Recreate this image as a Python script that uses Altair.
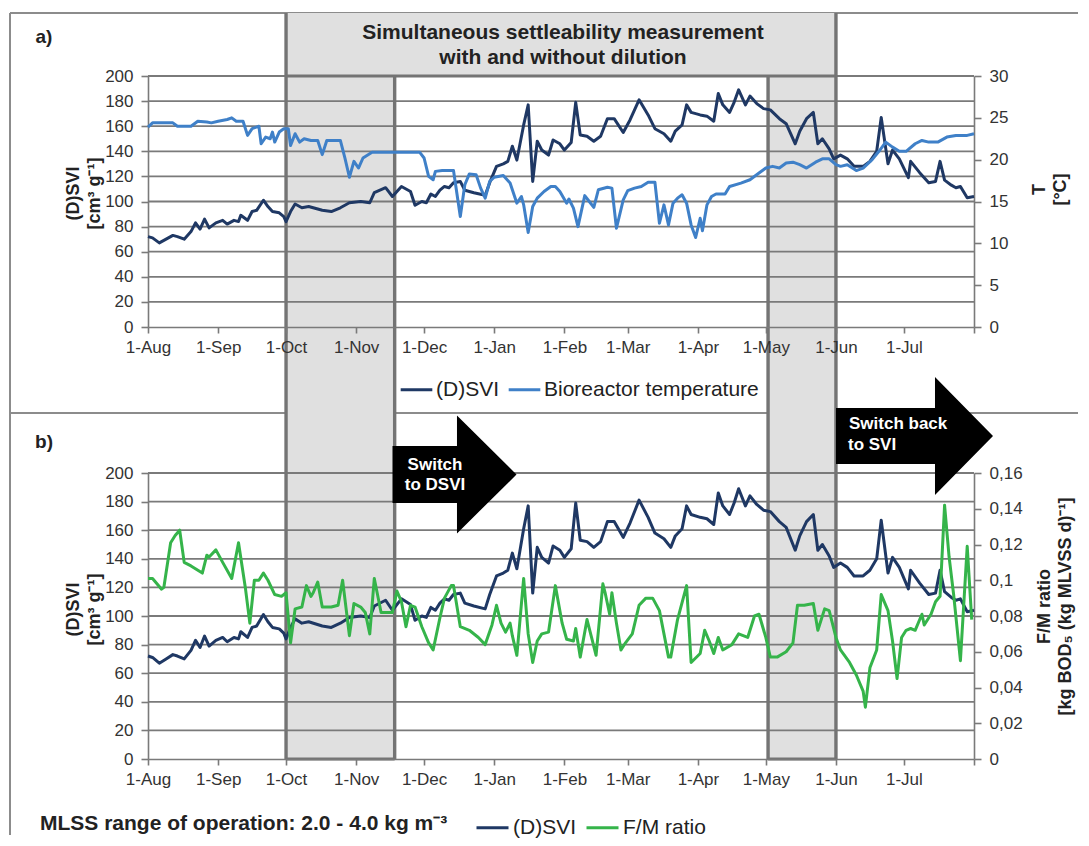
import altair as alt
import pandas as pd

# ---------------- data ----------------
START = "2013-08-01"

dsvi_day = [0, 2, 5, 8, 11, 13, 16, 19, 21, 23,
            25, 27, 30, 33, 35, 38, 40, 41, 44, 46,
            48, 51, 53, 55, 58, 60, 61, 63, 65, 68,
            71, 77, 81, 85, 89, 94, 98, 100, 105, 108,
            112, 116, 118, 121, 123, 125, 127, 129, 131, 133,
            135, 138, 140, 144, 149, 151, 154, 157, 159, 161,
            163, 166, 168, 170, 172, 174, 177, 179, 182, 184,
            187, 189, 191, 194, 197, 200, 203, 206, 210, 213,
            217, 221, 224, 228, 231, 233, 236, 238, 240, 244,
            247, 250, 252, 254, 257, 259, 261, 264, 266, 269,
            272, 275, 279, 282, 286, 288, 291, 294, 296, 298,
            301, 303, 306, 309, 312, 316, 319, 322, 324, 327,
            329, 332, 336, 337, 341, 345, 348, 350, 352, 355,
            357, 359, 362, 365]
dsvi_val = [72, 71, 67, 70, 73, 72, 70, 76, 83, 78,
            86, 79, 83, 85, 82, 85, 84, 89, 85, 92,
            93, 101, 96, 92, 91, 88, 84, 92, 98, 95,
            96, 93, 92, 95, 99, 100, 99, 107, 111, 104,
            112, 108, 97, 100, 99, 106, 104, 109, 112, 111,
            115, 116, 109, 107, 105, 115, 128, 130, 132, 144,
            133, 161, 177, 116, 148, 141, 137, 149, 146, 141,
            147, 179, 153, 152, 148, 152, 166, 166, 155, 165,
            181, 169, 158, 154, 148, 156, 161, 177, 171, 169,
            168, 164, 186, 177, 171, 179, 189, 177, 184, 178,
            174, 173, 166, 162, 146, 156, 166, 171, 146, 150,
            142, 134, 137, 134, 128, 128, 132, 140, 167, 130,
            141, 134, 119, 132, 123, 115, 116, 132, 117, 113,
            111, 112, 103, 104]

temp_day = [0, 2, 6, 11, 13, 19, 22, 26, 28, 31,
            35, 37, 39, 42, 44, 46, 49, 50, 52, 54,
            55, 56, 58, 60, 62, 63, 65, 67, 69, 72,
            75, 77, 79, 85, 87, 89, 91, 93, 95, 99,
            109, 120, 122, 124, 126, 127, 130, 135, 138, 140,
            142, 145, 147, 149, 151, 153, 157, 160, 163, 165,
            166, 168, 170, 172, 175, 178, 180, 182, 185, 186,
            188, 190, 193, 195, 197, 199, 203, 205, 207, 210,
            212, 215, 218, 221, 224, 226, 228, 230, 232, 234,
            236, 238, 240, 242, 244, 245, 247, 249, 251, 255,
            257, 262, 266, 270, 273, 276, 279, 282, 285, 288,
            291, 295, 298, 301, 304, 306, 309, 313, 316, 320,
            323, 326, 329, 332, 335, 339, 342, 345, 349, 353,
            357, 362, 365]
temp_val = [23.9, 24.4, 24.4, 24.4, 24.0, 24.0, 24.6, 24.5, 24.4, 24.6,
            24.8, 25.0, 24.6, 24.6, 22.9, 23.7, 24.0, 21.9, 22.7, 22.5,
            23.3, 22.1, 23.3, 23.7, 23.7, 21.7, 23.1, 22.1, 22.5, 22.3,
            22.3, 20.6, 22.3, 22.3, 20.2, 17.9, 19.8, 19.0, 20.2, 20.9,
            20.9, 20.9, 20.2, 18.0, 17.6, 18.6, 18.7, 18.7, 13.2, 17.0,
            18.3, 18.2, 16.6, 15.4, 17.4, 17.9, 18.1, 17.2, 14.8, 15.6,
            14.6, 11.3, 14.4, 15.4, 16.2, 16.8, 16.8, 16.2, 14.8, 15.3,
            14.2, 12.0, 15.7, 15.0, 14.3, 16.4, 16.7, 16.6, 11.8, 15.2,
            16.3, 16.6, 16.8, 17.3, 17.3, 12.4, 14.6, 12.2, 14.8, 15.4,
            15.8, 14.8, 12.2, 10.7, 13.0, 11.5, 14.6, 15.6, 15.9, 15.9,
            16.8, 17.2, 17.6, 18.4, 19.0, 19.2, 19.0, 19.6, 19.7, 19.4,
            19.0, 19.7, 20.1, 20.1, 19.4, 19.2, 19.4, 18.7, 19.0, 20.0,
            21.0, 22.1, 21.5, 21.0, 21.0, 21.9, 22.3, 22.1, 22.1, 22.7,
            22.9, 22.9, 23.1]

fm_day = [0, 2, 6, 7, 10, 12, 14, 16, 19, 24,
          26, 27, 30, 33, 37, 40, 43, 45, 47, 49,
          51, 53, 56, 59, 61, 63, 65, 68, 70, 72,
          73, 75, 77, 81, 84, 86, 89, 91, 94, 96,
          98, 100, 103, 108, 110, 112, 114, 116, 118, 121,
          124, 126, 129, 131, 134, 135, 138, 142, 146, 149,
          152, 154, 156, 158, 160, 161, 163, 166, 168, 170,
          172, 174, 177, 180, 183, 185, 188, 189, 191, 194,
          196, 198, 201, 202, 204, 205, 207, 209, 211, 214,
          217, 220, 223, 226, 230, 231, 234, 238, 240, 244,
          246, 248, 250, 252, 254, 258, 261, 263, 265, 268,
          270, 273, 275, 278, 282, 285, 287, 290, 294, 296,
          299, 301, 304, 306, 310, 313, 316, 317, 319, 322,
          324, 327, 329, 331, 333, 335, 337, 339, 342, 343,
          346, 348, 350, 352, 354, 356, 359, 362, 364]
fm_val = [0.101, 0.101, 0.095, 0.096, 0.121, 0.125, 0.128, 0.110, 0.108, 0.104,
          0.114, 0.113, 0.117, 0.110, 0.101, 0.121, 0.096, 0.076, 0.100, 0.100,
          0.104, 0.100, 0.092, 0.091, 0.093, 0.065, 0.084, 0.085, 0.097, 0.091,
          0.093, 0.099, 0.085, 0.085, 0.086, 0.100, 0.069, 0.087, 0.085, 0.082,
          0.070, 0.101, 0.082, 0.082, 0.094, 0.088, 0.074, 0.086, 0.085, 0.074,
          0.065, 0.061, 0.079, 0.090, 0.097, 0.097, 0.074, 0.072, 0.068, 0.064,
          0.075, 0.086, 0.076, 0.071, 0.076, 0.069, 0.058, 0.101, 0.070, 0.054,
          0.066, 0.070, 0.071, 0.097, 0.076, 0.067, 0.066, 0.073, 0.057, 0.078,
          0.068, 0.058, 0.098, 0.093, 0.081, 0.093, 0.076, 0.061, 0.065, 0.070,
          0.086, 0.090, 0.090, 0.083, 0.057, 0.057, 0.078, 0.097, 0.054, 0.059,
          0.072, 0.066, 0.059, 0.068, 0.061, 0.064, 0.070, 0.069, 0.068, 0.080,
          0.081, 0.068, 0.057, 0.057, 0.060, 0.065, 0.086, 0.086, 0.087, 0.072,
          0.084, 0.083, 0.068, 0.061, 0.054, 0.047, 0.038, 0.029, 0.051, 0.061,
          0.092, 0.083, 0.066, 0.045, 0.068, 0.072, 0.073, 0.072, 0.081, 0.075,
          0.081, 0.088, 0.091, 0.142, 0.113, 0.092, 0.055, 0.119, 0.078]

svi_ticks = [0, 20, 40, 60, 80, 100, 120, 140, 160, 180, 200]
temp_ticks = [0, 5, 10, 15, 20, 25, 30]
fm_ticks = [0, 0.02, 0.04, 0.06, 0.08, 0.1, 0.12, 0.14, 0.16]
month_ticks = [(2013, 8), (2013, 9), (2013, 10), (2013, 11), (2013, 12),
               (2014, 1), (2014, 2), (2014, 3), (2014, 4), (2014, 5),
               (2014, 6), (2014, 7), (2014, 8)]

band_start = ["2013-10-01", "2014-05-02"]
band_end = ["2013-11-18", "2014-06-01"]
header_start = ["2013-10-01"]
header_end = ["2014-06-01"]
outer_edges = ["2013-10-01", "2014-06-01"]
inner_edges = ["2013-11-18", "2014-05-02"]

series_top = ["(D)SVI", "Bioreactor temperature"]
series_bot = ["(D)SVI", "F/M ratio"]

# ---------------- styling ----------------
NAVY = "#1f3864"
BLUE = "#3f80c8"
GREEN = "#35b44a"
GRID = "#7a7a7a"
BAND = "#e0e0e0"
BORDER = "#747474"
FRAME = "#8c8c8c"
FONT = "Liberation Sans"

W, H1, H2, GAP = 826, 251, 286, 146


def to_dates(days):
    base = pd.Timestamp(START)
    return [(base + pd.Timedelta(days=int(d))).strftime("%Y-%m-%d") for d in days]


dsvi_df = pd.DataFrame({"date": to_dates(dsvi_day), "dsvi": dsvi_val, "series": series_top[0]})
temp_df = pd.DataFrame({"date": to_dates(temp_day), "temp": temp_val, "series": series_top[1]})
fm_df = pd.DataFrame({"date": to_dates(fm_day), "fm": fm_val, "series": series_bot[1]})
bands_df = pd.DataFrame({"start": band_start, "end": band_end})
header_df = pd.DataFrame({"start": header_start, "end": header_end})
outer_df = pd.DataFrame({"date": outer_edges})
inner_df = pd.DataFrame({"date": inner_edges})
grid_df = pd.DataFrame({"dsvi": svi_ticks[1:]})
dummy = pd.DataFrame({"k": [0]})

xscale = alt.Scale(type="utc", nice=False,
                   domain=[alt.DateTime(year=2013, month=8, date=1, utc=True),
                           alt.DateTime(year=2014, month=8, date=1, utc=True)])
xaxis = alt.Axis(values=[alt.DateTime(year=y, month=m, date=1, utc=True) for y, m in month_ticks],
                 labelExpr="datum.value >= 1406851200000 ? '' : utcFormat(datum.value, '%-d-%b')",
                 title=None, grid=False, labelFlush=False, labelOverlap=False,
                 tickSize=6, labelPadding=6, labelFontSize=17, zindex=1)


def X(field):
    return alt.X(f"{field}:T", scale=xscale, axis=xaxis)


svi_scale = alt.Scale(domain=[0, 200], nice=False)


def svi_axis(title_y):
    return alt.Axis(values=svi_ticks, title=["(D)SVI", "[cm³ g⁻¹]"], grid=False,
                    tickSize=7, labelPadding=8, labelFontSize=17,
                    titleFontSize=18, titleFontWeight="bold",
                    titleLineHeight=21, titleAngle=270, titleBaseline="bottom",
                    titleX=-66, titleY=title_y)


temp_axis = alt.Axis(values=temp_ticks, orient="right", title=["T", "[°C]"], grid=False,
                     tickSize=7, labelPadding=8, labelFontSize=17,
                     titleFontSize=18, titleFontWeight="bold",
                     titleLineHeight=21, titleAngle=270, titleBaseline="top",
                     titleX=56, titleY=113)
fm_axis = alt.Axis(values=fm_ticks, orient="right",
                   labelExpr="replace(toString(datum.value), '.', ',')",
                   title=["F/M ratio", "[kg BOD₅ (kg MLVSS d)⁻¹]"], grid=False,
                   tickSize=7, labelPadding=8, labelFontSize=17,
                   titleFontSize=18, titleFontWeight="bold",
                   titleLineHeight=21, titleAngle=270, titleBaseline="top",
                   titleX=61, titleY=133)
axis_top = svi_axis(117)
axis_bot = svi_axis(136)

color_top = alt.Color("series:N",
                      scale=alt.Scale(domain=series_top, range=[NAVY, BLUE]),
                      legend=alt.Legend(orient="none", legendX=251, legendY=296,
                                        direction="horizontal", title=None,
                                        symbolType="stroke", symbolSize=1000,
                                        symbolStrokeWidth=3, labelFontSize=21,
                                        labelOffset=2, columnPadding=3, padding=0,
                                        labelLimit=500, labelColor="#222"))
color_bot = alt.Color("series:N",
                      scale=alt.Scale(domain=series_bot, range=[NAVY, GREEN]),
                      legend=alt.Legend(orient="none", legendX=-108, legendY=337,
                                        direction="horizontal",
                                        title="MLSS range of operation: 2.0 - 4.0 kg m⁻³",
                                        titleOrient="left", titleFontSize=21,
                                        titleFontWeight="bold", titleColor="#222",
                                        titlePadding=27, titleLimit=1000,
                                        titleAnchor="middle", titleBaseline="middle",
                                        symbolType="stroke", symbolSize=1024,
                                        symbolStrokeWidth=3, labelFontSize=21,
                                        labelOffset=3, columnPadding=4, padding=0,
                                        labelLimit=500, labelColor="#222"))


def hline(x1, x2, y, color=FRAME, w=2):
    return alt.Chart(dummy).mark_rule(color=color, strokeWidth=w).encode(
        x=alt.value(x1), x2=alt.value(x2), y=alt.value(y))


def vline(x, y1, y2, color=FRAME, w=2):
    return alt.Chart(dummy).mark_rule(color=color, strokeWidth=w).encode(
        x=alt.value(x), y=alt.value(y1), y2=alt.value(y2))


def label(text, x, y, size, color="#222", weight="bold", align="center"):
    return alt.Chart(dummy).mark_text(text=text, fontSize=size, fontWeight=weight,
                                      color=color, align=align, baseline="middle",
                                      font=FONT).encode(x=alt.value(x), y=alt.value(y))


def arrow(path, cx, cy, side):
    return alt.Chart(dummy).mark_point(shape=path, filled=True, fill="black",
                                       strokeWidth=0, opacity=1,
                                       size=side * side).encode(
        x=alt.value(cx), y=alt.value(cy))


LINE_W = 3

# ---------------- panel a ----------------
TOP_FRAME, TOP_DIV, LEFT, RIGHT = -63, 337, -138, 930

top_left = alt.layer(
    hline(LEFT, RIGHT, TOP_FRAME),
    vline(LEFT, TOP_FRAME, TOP_DIV),
    hline(LEFT, RIGHT, TOP_DIV),
    alt.Chart(bands_df).mark_rect(color=BAND).encode(
        x=X("start"), x2=alt.X2("end"), y=alt.value(0), y2=alt.value(TOP_DIV)),
    alt.Chart(header_df).mark_rect(color=BAND).encode(
        x=X("start"), x2=alt.X2("end"), y=alt.value(TOP_FRAME), y2=alt.value(0)),
    alt.Chart(grid_df).mark_rule(color=GRID, strokeWidth=1.8).encode(
        y=alt.Y("dsvi:Q", scale=svi_scale, axis=axis_top)),
    alt.Chart(outer_df).mark_rule(color=BORDER, strokeWidth=3.4).encode(
        x=X("date"), y=alt.value(TOP_FRAME), y2=alt.value(TOP_DIV)),
    alt.Chart(inner_df).mark_rule(color=BORDER, strokeWidth=3.4).encode(
        x=X("date"), y=alt.value(0), y2=alt.value(TOP_DIV)),
    alt.Chart(header_df).mark_rule(color=BORDER, strokeWidth=3).encode(
        x=X("start"), x2=alt.X2("end"), y=alt.value(0)),
    alt.Chart(dsvi_df).mark_line(strokeWidth=LINE_W, strokeJoin="round").encode(
        x=X("date"), y=alt.Y("dsvi:Q", scale=svi_scale, axis=axis_top), color=color_top),
    label("a)", -104, -39, 19),
    label("Simultaneous settleability measurement", 415, -43, 21),
    label("with and without dilution", 415, -18, 21),
)
temp_line = alt.Chart(temp_df).mark_line(strokeWidth=LINE_W, strokeJoin="round").encode(
    x=X("date"),
    y=alt.Y("temp:Q", scale=alt.Scale(domain=[0, 30], nice=False), axis=temp_axis),
    color=color_top)

top = alt.layer(top_left, temp_line).resolve_scale(y="independent").properties(
    width=W, height=H1)

# ---------------- panel b ----------------
BOT_DIV, BOT_END = -60, 362
arrow1 = "M-1,-0.46L0.04,-0.46L0.04,-0.95L1,0L0.04,0.95L0.04,0.46L-1,0.46Z"
arrow2 = "M-1,-0.357L0.261,-0.357L0.261,-0.752L1,0L0.261,0.752L0.261,0.357L-1,0.357Z"

bot_left = alt.layer(
    vline(LEFT, BOT_DIV, BOT_END),
    alt.Chart(bands_df).mark_rect(color=BAND).encode(
        x=X("start"), x2=alt.X2("end"), y=alt.value(BOT_DIV), y2=alt.value(H2)),
    alt.Chart(grid_df).mark_rule(color=GRID, strokeWidth=1.8).encode(
        y=alt.Y("dsvi:Q", scale=svi_scale, axis=axis_bot)),
    alt.Chart(pd.DataFrame({"date": outer_edges + inner_edges})).mark_rule(
        color=BORDER, strokeWidth=3.4).encode(
        x=X("date"), y=alt.value(BOT_DIV), y2=alt.value(H2)),
    alt.Chart(bands_df).mark_rule(color=BORDER, strokeWidth=3).encode(
        x=X("start"), x2=alt.X2("end"), y=alt.value(H2)),
    arrow(arrow1, 306.5, 1.5, 124),
    arrow(arrow2, 766.5, -37, 157),
    label("Switch", 287, -8.5, 17, color="white"),
    label("to DSVI", 287, 11.5, 17, color="white"),
    label("Switch back", 701, -49, 17, color="white", align="left"),
    label("to SVI", 700, -28, 17, color="white", align="left"),
    label("b)", -104, -31, 19),
    alt.Chart(dsvi_df.assign(series=series_bot[0])).mark_line(
        strokeWidth=LINE_W, strokeJoin="round").encode(
        x=X("date"), y=alt.Y("dsvi:Q", scale=svi_scale, axis=axis_bot), color=color_bot),
)
fm_line = alt.Chart(fm_df).mark_line(strokeWidth=LINE_W, strokeJoin="round").encode(
    x=X("date"),
    y=alt.Y("fm:Q", scale=alt.Scale(domain=[0, 0.16], nice=False), axis=fm_axis),
    color=color_bot)

bottom = alt.layer(bot_left, fm_line).resolve_scale(y="independent").properties(
    width=W, height=H2)

chart = alt.vconcat(top, bottom, spacing=GAP, bounds="flush").resolve_scale(
    color="independent").resolve_legend(color="independent").properties(
    padding={"left": 1, "top": 3, "right": 2, "bottom": 0}
).configure(font=FONT).configure_view(stroke=None).configure_axis(
    domainColor=GRID, tickColor=GRID, domainWidth=1.6, tickWidth=1.6,
    labelColor="#333", titleColor="#222", labelFont=FONT, titleFont=FONT
).configure_legend(labelFont=FONT, titleFont=FONT)

chart.save("out.html", embed_options={"renderer": "svg", "actions": False})
